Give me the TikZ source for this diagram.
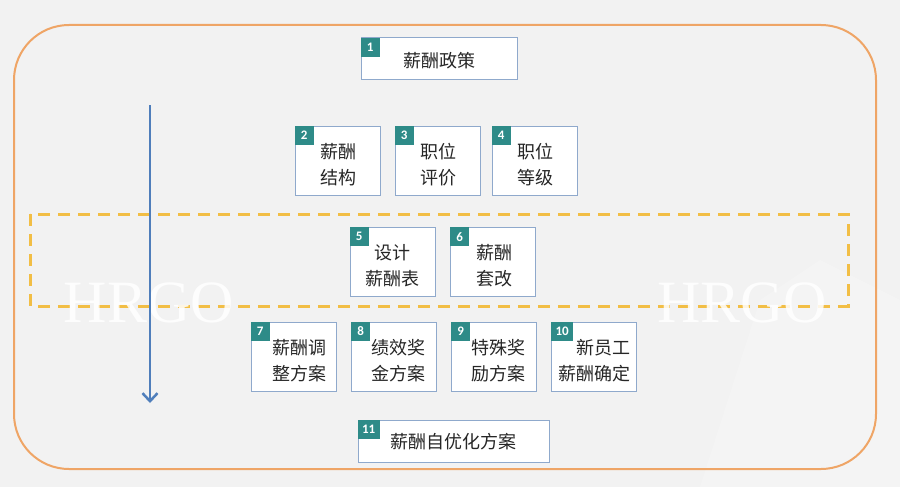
\documentclass[tikz,border=0pt]{standalone}
\usepackage{fontspec}
\newfontfamily\cjk{Noto Sans CJK SC}
\newfontfamily\wmfont{Liberation Serif}
\newfontfamily\badgefont{Carlito}
\usetikzlibrary{arrows.meta}
\definecolor{bgc}{HTML}{F2F2F2}
\definecolor{orangec}{HTML}{EFA566}
\definecolor{dashc}{HTML}{F2BE45}
\definecolor{arrowc}{HTML}{4F7EBB}
\definecolor{borderc}{HTML}{8FA9CC}
\definecolor{tealc}{HTML}{2E8B88}
\tikzset{
  cbox/.style={draw=borderc, fill=white, line width=1pt, minimum width=85pt, minimum height=69pt,
    inner sep=0pt},
  wbox/.style={cbox, minimum height=42pt},
  ctext/.style={align=center, inner sep=0pt, font={\cjk\fontsize{18}{26}\selectfont}, text=black!85},
  badge/.style={fill=tealc, text=white, font={\badgefont\bfseries\fontsize{13}{13}\selectfont},
    minimum width=19pt, minimum height=19pt, inner sep=1pt, anchor=north west},
  wm/.style={text=white, opacity=0.85, font={\wmfont\fontsize{60}{60}\selectfont}},
  flow/.style={draw=arrowc, line width=2.5pt, -{Straight Barb[length=8pt,width=15pt,line width=2.5pt]}}
}
\begin{document}
\begin{tikzpicture}[x=1pt,y=-1pt]
\fill[bgc] (0,0) rectangle (900,487);
\useasboundingbox (0,0) rectangle (900,487);
% faint background shapes
\fill[white, opacity=0.18] (700,487) -- (760,300) -- (820,260) -- (900,300) -- (900,487) -- cycle;
% outer frame
\draw[orangec, line width=2pt, rounded corners=55pt] (14,25) rectangle (876,469);
% dashed band
\draw[dashc, line width=3pt, dash pattern=on 12pt off 8pt] (30,214) rectangle (848,306);
% watermarks
\node[wm] (wm1) at (149,303) {HRGO};
\node[wm] (wm2) at (742,303) {HRGO};
% arrow
\coordinate (as) at (150,105);
\coordinate (ae) at (150,403);
\draw[flow] (as) -- (ae);
% boxes
\node[wbox, minimum width=156pt] (n1) at (439,59) {};
\node[cbox] (n2) at (337.5,160.5) {};
\node[cbox] (n3) at (437.5,160.5) {};
\node[cbox] (n4) at (534.5,160.5) {};
\node[cbox] (n5) at (392.5,262) {};
\node[cbox] (n6) at (493,262) {};
\node[cbox] (n7) at (293.5,356.5) {};
\node[cbox] (n8) at (394,356.5) {};
\node[cbox] (n9) at (494,356.5) {};
\node[cbox] (n10) at (594,356.5) {};
\node[wbox, minimum width=191pt] (n11) at (453.5,441) {};
% texts
\node[ctext] (t1) at ([yshift=-2pt]n1.center) {薪酬政策};
\node[ctext] (t2) at ([xshift=1pt,yshift=-4pt]n2.center) {薪酬\\结构};
\node[ctext] (t3) at ([xshift=1pt,yshift=-4pt]n3.center) {职位\\评价};
\node[ctext] (t4) at ([xshift=1pt,yshift=-4pt]n4.center) {职位\\等级};
\node[ctext] (t5) at ([yshift=-4pt]n5.center) {设计\\薪酬表};
\node[ctext] (t6) at ([xshift=1pt,yshift=-4pt]n6.center) {薪酬\\套改};
\node[ctext] (t7) at ([xshift=6pt,yshift=-4pt]n7.center) {薪酬调\\整方案};
\node[ctext] (t8) at ([xshift=4pt,yshift=-4pt]n8.center) {绩效奖\\金方案};
\node[ctext] (t9) at ([xshift=4pt,yshift=-4pt]n9.center) {特殊奖\\励方案};
\node[ctext] (t10) at ([yshift=-4pt]n10.center) {\hspace*{18pt}新员工\\薪酬确定};
\node[ctext] (t11) at ([yshift=-1pt]n11.center) {薪酬自优化方案};
% badges
\node[badge] (b1) at (n1.north west) {1};
\node[badge] (b2) at (n2.north west) {2};
\node[badge] (b3) at (n3.north west) {3};
\node[badge] (b4) at (n4.north west) {4};
\node[badge] (b5) at (n5.north west) {5};
\node[badge] (b6) at (n6.north west) {6};
\node[badge] (b7) at (n7.north west) {7};
\node[badge] (b8) at (n8.north west) {8};
\node[badge] (b9) at (n9.north west) {9};
\node[badge, minimum width=22pt] (b10) at (n10.north west) {10};
\node[badge, minimum width=22pt] (b11) at (n11.north west) {11};
\end{tikzpicture}
\end{document}
